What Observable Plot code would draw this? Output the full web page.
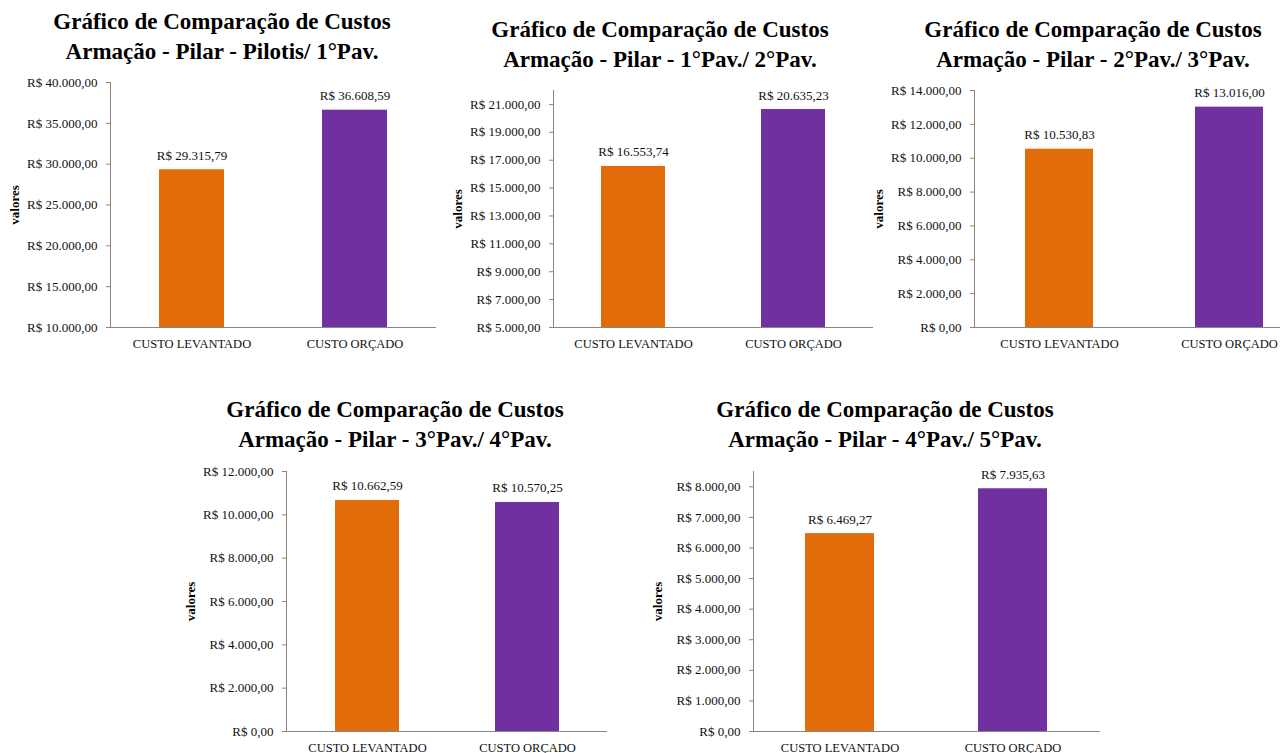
<!DOCTYPE html>
<html>
<head>
<meta charset="utf-8">
<script src="https://cdn.jsdelivr.net/npm/d3@7"></script>
<script src="https://cdn.jsdelivr.net/npm/@observablehq/plot@0.6"></script>
<style>
  html, body { margin: 0; padding: 0; background: #fff; overflow: hidden; width: 1280px; height: 753px; }
  body { position: relative; font-family: "Liberation Serif", "DejaVu Serif", serif; }
  .title { position: absolute; width: 460px; text-align: center; font-weight: bold; font-size: 23px; line-height: 30px; color: #000; white-space: nowrap; font-family: "Liberation Serif", "DejaVu Serif", serif; }
  .panel { position: absolute; }
  .panel svg { overflow: visible; max-width: none !important; }
  g[aria-label="y-axis label"] text { font-weight: bold; font-size: 13px; fill: #000; }
</style>
</head>
<body>
<script>
// ---- data ----
const categories = ["CUSTO LEVANTADO", "CUSTO ORÇADO"];
const titleLine1 = "Gráfico de Comparação de Custos";
const titleLine2 = [
  "Armação - Pilar - Pilotis/ 1°Pav.",
  "Armação - Pilar - 1°Pav./ 2°Pav.",
  "Armação - Pilar - 2°Pav./ 3°Pav.",
  "Armação - Pilar - 3°Pav./ 4°Pav.",
  "Armação - Pilar - 4°Pav./ 5°Pav."
];
const custoLevantado = [29315.79, 16553.74, 10530.83, 10662.59, 6469.27];
const custoOrcado = [36608.59, 20635.23, 13016.00, 10570.25, 7935.63];
const axisMin = [10000, 5000, 0, 0, 0];
const axisMax = [40000, 22000, 14000, 12000, 8500];
const axisTopTick = [40000, 21000, 14000, 12000, 8000];
const axisStep = [5000, 2000, 2000, 2000, 1000];
const axisLabel = "valores";

// ---- layout (positions in px) ----
const layout = [
  {left: 0,   top: 70,  axisX: 110, right: 436,  plotTop: 82,  plotBottom: 327, titleCx: 222,  titleTop: 7},
  {left: 440, top: 70,  axisX: 553, right: 873,  plotTop: 90,  plotBottom: 327, titleCx: 660,  titleTop: 15},
  {left: 865, top: 70,  axisX: 974, right: 1314, plotTop: 90,  plotBottom: 327, titleCx: 1093, titleTop: 15},
  {left: 180, top: 455, axisX: 286, right: 607,  plotTop: 471, plotBottom: 731, titleCx: 395,  titleTop: 395},
  {left: 650, top: 455, axisX: 753, right: 1100, plotTop: 471, plotBottom: 731, titleCx: 885,  titleTop: 395}
];

const brl = d3.formatLocale({decimal: ",", thousands: ".", grouping: [3], currency: ["R$ ", ""]});
const fmt = brl.format("$,.2f");
const colors = ["#E36C0A", "#7030A0"];
const serif = '"Liberation Serif", "DejaVu Serif", serif';

layout.forEach((L, i) => {
  const t = document.createElement("div");
  t.className = "title";
  t.style.left = (L.titleCx - 230) + "px";
  t.style.top = L.titleTop + "px";
  t.innerHTML = titleLine1 + "<br>" + titleLine2[i];
  document.body.appendChild(t);

  const data = categories.map((c, j) => ({cat: c, value: j === 0 ? custoLevantado[i] : custoOrcado[i]}));
  const ticks = d3.range(axisMin[i], axisTopTick[i] + 1, axisStep[i]);
  const marginTop = L.plotTop - L.top;
  const marginBottom = 30;
  const marginLeft = L.axisX - L.left;
  const width = L.right - L.left;
  const height = L.plotBottom - L.top + marginBottom;

  const chart = Plot.plot({
    width, height, marginTop, marginBottom, marginLeft, marginRight: 0,
    style: {fontFamily: serif, fontSize: "13px", color: "#111", background: "transparent", overflow: "visible", maxWidth: "none"},
    x: {type: "band", domain: categories, paddingInner: 0.6, paddingOuter: 0.3},
    y: {domain: [axisMin[i], axisMax[i]]},
    color: {domain: categories, range: colors},
    marks: [
      Plot.barY(data, {x: "cat", y1: axisMin[i], y2: "value", fill: "cat"}),
      Plot.frame({anchor: "left", stroke: "#868686"}),
      Plot.ruleY([axisMin[i]], {stroke: "#868686"}),
      Plot.axisY({ticks, tickFormat: fmt, tickSize: 4, tickPadding: 9, stroke: "#868686",
        label: axisLabel, labelAnchor: "center", labelArrow: "none", labelOffset: 101}),
      Plot.axisX({tickSize: 0, tickPadding: 12, fontSize: 12.5, label: null}),
      Plot.text(data, {x: "cat", y: "value", text: d => fmt(d.value), dy: -10, lineAnchor: "bottom", fontSize: 13, fill: "#111"})
    ]
  });
  const wrap = document.createElement("div");
  wrap.className = "panel";
  wrap.style.left = L.left + "px";
  wrap.style.top = L.top + "px";
  wrap.appendChild(chart);
  document.body.appendChild(wrap);
});
</script>
</body>
</html>
